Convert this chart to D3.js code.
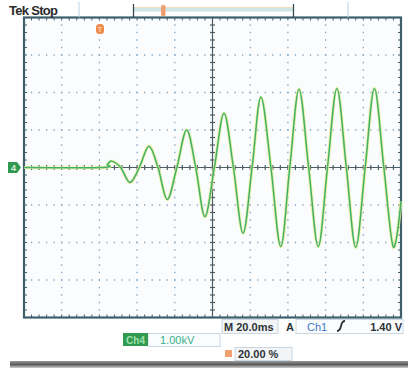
<!DOCTYPE html>
<html><head><meta charset="utf-8">
<script src="https://cdn.jsdelivr.net/npm/d3@7"></script>
<style>
html,body{margin:0;padding:0;background:#fff;}
svg{display:block;font-family:"Liberation Sans",Arial,sans-serif;}
</style></head>
<body>
<svg id="c" width="408" height="369"></svg>
<script>
// Waveform samples: time (ms from left edge) and value (kV)
const timeMs = [0, 41.9, 44.2, 46.5, 51.3, 56.2, 61.2, 66.3, 71.1, 76.0, 81.1, 86.3, 91.1, 96.0, 101.0, 106.1,
  111.1, 116.2, 121.0, 125.7, 131.0, 136.2, 141.0, 145.9, 151.0, 156.1, 161.0, 166.0, 171.0, 176.0, 181.0,
  185.9, 190.9, 195.9, 200];
const voltsKV = [0, 0, 0.08, 0.17, 0, -0.4, 0, 0.57, 0, -0.85, 0, 1.0, 0, -1.31, 0, 1.45,
  0, -1.75, 0, 1.88, 0, -2.11, 0, 2.09, 0, -2.11, 0, 2.11, 0, -2.13, 0,
  2.11, 0, -2.12, -0.9];
const xDivs = d3.range(0, 201, 20);   // 20.0 ms/div
const yDivs = d3.range(-4, 5, 1);     // 1.00 kV/div
const header = ["Tek", "Stop"];
const bottomLabels = {timebase: "M 20.0ms", trigSrc: "Ch1", trigLevel: "1.40 V", chan: "Ch4", scale: "1.00kV", pos: "20.00 %"};

const svg = d3.select("#c");
const L = 24, R = 401, T = 17.5, B = 317.5;
const x = d3.scaleLinear().domain([0, 200]).range([L, R]);
const y = d3.scaleLinear().domain([-4, 4]).range([B, T]);
const cx = x(100), cy = y(0);
const frameCol = "#3f5f6c", gridCol = "#7fa6c4";

// drop shadow at bottom
const g0 = svg.append("defs").append("linearGradient").attr("id","sh").attr("x1",0).attr("y1",0).attr("x2",0).attr("y2",1);
g0.append("stop").attr("offset","0").attr("stop-color","#9a9a9a");
g0.append("stop").attr("offset","0.5").attr("stop-color","#5a5a5a");
g0.append("stop").attr("offset","1").attr("stop-color","#cfcfcf");
svg.append("rect").attr("x",10).attr("y",361).attr("width",398).attr("height",7).attr("fill","url(#sh)");

// plot background
svg.append("rect").attr("x",L).attr("y",T).attr("width",R-L).attr("height",B-T).attr("fill","#fbfcfe");

// dotted grid
const dx = (x(20)-x(0))/5, dy = (y(0)-y(1))/5;
svg.append("g").selectAll("line").data(xDivs.filter(d=>d>0&&d<200&&d!==100)).join("line")
  .attr("x1",d=>x(d)).attr("x2",d=>x(d)).attr("y1",T).attr("y2",B)
  .attr("stroke",gridCol).attr("stroke-width",1.3).attr("stroke-dasharray",`1.3,${dy-1.3}`).attr("stroke-dashoffset",-dy+0.65);
svg.append("g").selectAll("line").data(yDivs.filter(d=>d>-4&&d<4&&d!==0)).join("line")
  .attr("x1",L).attr("x2",R).attr("y1",d=>y(d)).attr("y2",d=>y(d))
  .attr("stroke",gridCol).attr("stroke-width",1.3).attr("stroke-dasharray",`1.3,${dx-1.3}`).attr("stroke-dashoffset",-dx+0.65);

// center cross with minor ticks
const cross = svg.append("g").attr("stroke","#4d5d63").attr("stroke-width",1.2);
cross.append("line").attr("x1",L).attr("x2",R).attr("y1",cy).attr("y2",cy);
cross.append("line").attr("x1",cx).attr("x2",cx).attr("y1",T).attr("y2",B);
const minorX = d3.range(0, 50).map(i => i*4);
const minorY = d3.range(0, 40).map(i => -4 + i*0.2);
cross.selectAll(".mx").data(minorX).join("line").attr("x1",d=>x(d)).attr("x2",d=>x(d)).attr("y1",cy-2.5).attr("y2",cy+2.5);
cross.selectAll(".my").data(minorY).join("line").attr("y1",d=>y(d)).attr("y2",d=>y(d)).attr("x1",cx-2.5).attr("x2",cx+2.5);

// frame ticks
const ft = svg.append("g").attr("stroke",frameCol).attr("stroke-width",1);
ft.selectAll(".t").data(minorX).join("line").attr("x1",d=>x(d)).attr("x2",d=>x(d)).attr("y1",T).attr("y2",T+3);
ft.selectAll(".b").data(minorX).join("line").attr("x1",d=>x(d)).attr("x2",d=>x(d)).attr("y1",B-3).attr("y2",B);
ft.selectAll(".l").data(minorY).join("line").attr("y1",d=>y(d)).attr("y2",d=>y(d)).attr("x1",L).attr("x2",L+3);
ft.selectAll(".r").data(minorY).join("line").attr("y1",d=>y(d)).attr("y2",d=>y(d)).attr("x1",R-3).attr("x2",R);
svg.append("rect").attr("x",L).attr("y",T).attr("width",R-L).attr("height",B-T)
  .attr("fill","none").attr("stroke",frameCol).attr("stroke-width",2.2);

// waveform
const pts = timeMs.map((t,i)=>[t, voltsKV[i]]);
const line = d3.line().x(d=>x(d[0])).y(d=>y(d[1])).curve(d3.curveCardinal.tension(0));
svg.append("path").attr("d",line(pts)).attr("fill","none").attr("stroke","#e6ee8a").attr("stroke-width",3.2).attr("stroke-opacity",0.85);
svg.append("path").attr("d",line(pts)).attr("fill","none").attr("stroke","#43b070").attr("stroke-width",1.5);

// header
svg.append("text").attr("x",9).attr("y",15).attr("font-size",13).attr("font-weight","bold").attr("fill","#2a2a2a").attr("letter-spacing",-0.7)
  .text(header.join(" "));
// separators top
svg.append("line").attr("x1",79).attr("x2",79).attr("y1",2).attr("y2",T).attr("stroke","#b8d0e4").attr("stroke-width",1);
svg.append("line").attr("x1",348).attr("x2",348).attr("y1",2).attr("y2",T).attr("stroke","#b8d0e4").attr("stroke-width",1);
// record bar
svg.append("rect").attr("x",134).attr("y",7.5).attr("width",159).attr("height",4).attr("fill","#cfe6e2");
svg.append("line").attr("x1",134).attr("x2",293).attr("y1",7.5).attr("y2",7.5).attr("stroke","#f4dcc4").attr("stroke-width",1);
svg.append("line").attr("x1",133.5).attr("x2",133.5).attr("y1",4).attr("y2",T).attr("stroke","#3b4a50").attr("stroke-width",1.3);
svg.append("line").attr("x1",293.5).attr("x2",293.5).attr("y1",4).attr("y2",T).attr("stroke","#3b4a50").attr("stroke-width",1.3);
svg.append("rect").attr("x",161).attr("y",5).attr("width",4.5).attr("height",11).attr("rx",1.5).attr("fill","#f0a070");
// trigger position marker
svg.append("rect").attr("x",x(38.2)).attr("y",24).attr("width",8).attr("height",10).attr("rx",3.5).attr("fill","#f08a4a");
svg.append("text").attr("x",x(38.2)+4).attr("y",32).attr("text-anchor","middle").attr("font-size",7).attr("font-weight","bold").attr("fill","#fbd3b8").text("T");
// channel ground marker
svg.append("path").attr("d",`M8,${cy-5.5} h9 l4,5.5 l-4,5.5 h-9 z`).attr("fill","#2f9a50");
svg.append("text").attr("x",13.5).attr("y",cy+3.5).attr("text-anchor","middle").attr("font-size",9).attr("font-weight","bold").attr("fill","#d9f2dc").text("4");

// bottom readouts
const bx = svg.append("g").attr("font-weight","bold").attr("font-size",11);
bx.append("rect").attr("x",222).attr("y",319.5).attr("width",56).attr("height",14).attr("fill","#f2f4f6").attr("stroke","#c9d7e3");
bx.append("text").attr("x",224).attr("y",330.5).attr("fill","#2b3236").text(bottomLabels.timebase);
bx.append("text").attr("x",286).attr("y",330.5).attr("fill","#2b3236").text("A");
bx.append("rect").attr("x",296).attr("y",319.5).attr("width",107).attr("height",14).attr("fill","#fbfcfe").attr("stroke","#c9d7e3");
bx.append("text").attr("x",307).attr("y",330.5).attr("fill","#3f77c8").attr("font-weight","normal").text(bottomLabels.trigSrc);
bx.append("path").attr("d","M337,331 q3,0 4,-5 q1,-5 4,-5").attr("fill","none").attr("stroke","#2b3236").attr("stroke-width",1.8);
bx.append("text").attr("x",402).attr("y",330.5).attr("text-anchor","end").attr("fill","#2b3236").text(bottomLabels.trigLevel);
bx.append("rect").attr("x",148).attr("y",333.5).attr("width",72).attr("height",13).attr("fill","#fbfcfe").attr("stroke","#c9d7e3");
bx.append("rect").attr("x",123).attr("y",333).attr("width",25).attr("height",13).attr("fill","#2f9a50");
bx.append("text").attr("x",135.5).attr("y",343.5).attr("text-anchor","middle").attr("font-size",10).attr("fill","#9fe0a8").text(bottomLabels.chan);
bx.append("text").attr("x",160).attr("y",344).attr("font-weight","normal").attr("font-size",11).attr("fill","#36b08a").text(bottomLabels.scale);
bx.append("rect").attr("x",225).attr("y",350).attr("width",7).attr("height",7).attr("fill","#f2a070");
bx.append("rect").attr("x",235).attr("y",347.5).attr("width",57).attr("height",13).attr("fill","#f2f4f6").attr("stroke","#c9d7e3");
bx.append("text").attr("x",238).attr("y",358).attr("fill","#2b3236").text(bottomLabels.pos);
</script>
</body></html>
